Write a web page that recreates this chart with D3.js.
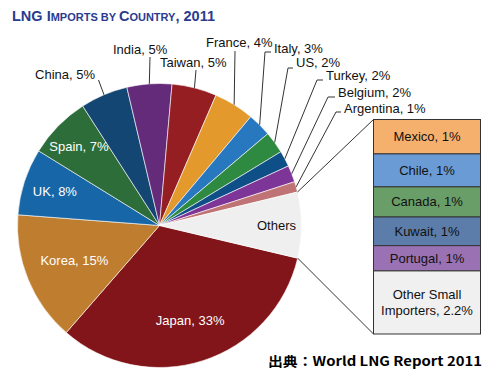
<!DOCTYPE html>
<html>
<head>
<meta charset="utf-8">
<script src="https://cdn.jsdelivr.net/npm/d3@7"></script>
<style>
body { margin: 0; background: #fff; }
svg { display: block; }
text { font-family: "Liberation Sans", Arial, sans-serif; }
</style>
</head>
<body>
<div id="chart"></div>
<script>
// slices of the pie, clockwise from the Others/Japan edge
var countries = ["Japan", "Korea", "UK", "Spain", "China", "India", "Taiwan", "France", "Italy", "US", "Turkey", "Belgium", "Argentina", "Others"]
var shares = [32.7, 14.8, 7.6, 7.1, 5.4, 5.1, 5.1, 4.6, 2.7, 2.5, 1.8, 1.9, 1.2]
var labels = ["Japan, 33%", "Korea, 15%", "UK, 8%", "Spain, 7%", "China, 5%", "India, 5%", "Taiwan, 5%", "France, 4%", "Italy, 3%", "US, 2%", "Turkey, 2%", "Belgium, 2%", "Argentina, 1%", "Others"]
var colors = ["#811519", "#bf7d2f", "#1766a8", "#2c6d39", "#144674", "#642b7a", "#951e23", "#e3992b", "#2778bf", "#2f8a41", "#0f4f87", "#7e3598", "#c07374", "#efefef"]

// breakdown of "Others"
var smallNames = ["Mexico, 1%", "Chile, 1%", "Canada, 1%", "Kuwait, 1%", "Portugal, 1%", "Other Small|Importers, 2.2%"]
var smallShares = [1.2, 1.15, 1.05, 1.0, 0.88, 2.2]
var smallColors = ["#f6b06e", "#6b9bd4", "#6a9e69", "#5c7ca9", "#9a72b3", "#f0f0f0"]

var othersTotal = d3.sum(smallShares)
var data = countries.map(function(c, i) {
	return {name: c, value: i < shares.length ? shares[i] : othersTotal, label: labels[i], color: colors[i]}
})

var width = 500, height = 384
var cx = 159.5, cy = 225.5, radius = 142
var start = 103.3 * Math.PI / 180

var svg = d3.select("#chart").append("svg")
	.attr("width", width)
	.attr("height", height)

// title in small caps
var title = svg.append("text")
	.attr("x", 12)
	.attr("y", 21)
	.style("font-weight", "bold")
	.style("fill", "#2a3b8f")
var parts = [["LNG I", 14.5], ["MPORTS BY ", 11], ["C", 14.5], ["OUNTRY", 11], [", 2011", 14.5]]
parts.forEach(function(p) {
	title.append("tspan").style("font-size", p[1] + "px").text(p[0])
})

var g = svg.append("g").attr("transform", "translate(" + cx + "," + cy + ")")

var pie = d3.pie().sort(null).value(function(d) { return d.value })
	.startAngle(start).endAngle(start + 2 * Math.PI)
var arcs = pie(data)

var arc = d3.arc().innerRadius(0).outerRadius(radius)
var edge = d3.arc().innerRadius(radius).outerRadius(radius)

g.selectAll("path.slice")
	.data(arcs)
	.enter()
	.append("path")
		.attr("class", "slice")
		.attr("d", arc)
		.style("fill", function(d) { return d.data.color })
		.style("stroke", "#ffffff")
		.style("stroke-width", 0.6)

// labels inside the slices (radius from centre)
var inside = {Japan: 100, Korea: 92, UK: 110, Spain: 113, Others: 117}
arcs.forEach(function(d) {
	var r = inside[d.data.name]
	if (!r) return
	var p = d3.arc().innerRadius(r).outerRadius(r).centroid(d)
	g.append("text")
		.attr("x", p[0])
		.attr("y", p[1] + 4.5)
		.attr("text-anchor", "middle")
		.style("font-size", "13px")
		.style("fill", d.data.name == "Others" ? "#111" : "#fff")
		.text(d.data.label)
})

// labels outside: leader bend point and text spot (page coords)
var outside = {
	China:     {pts: [[98.5, 80]], tx: 95, ty: 79, anchor: "end"},
	India:     {pts: [[150, 57]], tx: 113, ty: 54, anchor: "start"},
	Taiwan:    {pts: [[196, 70]], tx: 160, ty: 67, anchor: "start"},
	France:    {pts: [[235, 51]], tx: 206, ty: 47, anchor: "start"},
	Italy:     {pts: [[265, 52], [271, 52]], tx: 274, ty: 53, anchor: "start"},
	US:        {pts: [[288, 68], [293, 68]], tx: 296, ty: 67, anchor: "start"},
	Turkey:    {pts: [[317, 80], [323, 80]], tx: 326, ty: 80, anchor: "start"},
	Belgium:   {pts: [[328, 97], [335, 97]], tx: 338, ty: 97, anchor: "start"},
	Argentina: {pts: [[336, 112], [341, 112]], tx: 344, ty: 113, anchor: "start"}
}
var line = d3.line()
arcs.forEach(function(d) {
	var o = outside[d.data.name]
	if (!o) return
	var e = edge.centroid(d)
	var pts = [[e[0] + cx, e[1] + cy]].concat(o.pts)
	svg.append("path")
		.attr("d", line(pts))
		.style("fill", "none")
		.style("stroke", "#333")
		.style("stroke-width", 1)
	svg.append("text")
		.attr("x", o.tx)
		.attr("y", o.ty)
		.attr("text-anchor", o.anchor)
		.style("font-size", "13px")
		.style("fill", "#111")
		.text(d.data.label)
})

// stacked box for the Others breakdown
var boxX = 373.5, boxW = 107
var y = d3.scaleLinear().domain([0, othersTotal]).range([119.5, 334])
var acc = 0
var stack = smallShares.map(function(v, i) {
	var s = {name: smallNames[i], color: smallColors[i], y0: acc, y1: acc + v}
	acc += v
	return s
})

var others = arcs[arcs.length - 1]
var pStart = d3.pointRadial(others.startAngle, radius)
var pEnd = d3.pointRadial(others.endAngle, radius)
svg.append("line")
	.attr("x1", pStart[0] + cx).attr("y1", pStart[1] + cy)
	.attr("x2", boxX).attr("y2", y(0))
	.style("stroke", "#333").style("stroke-width", 1)
svg.append("line")
	.attr("x1", pEnd[0] + cx).attr("y1", pEnd[1] + cy)
	.attr("x2", boxX).attr("y2", y(othersTotal))
	.style("stroke", "#333").style("stroke-width", 1)

svg.selectAll("rect.part")
	.data(stack)
	.enter()
	.append("rect")
		.attr("class", "part")
		.attr("x", boxX)
		.attr("y", function(d) { return y(d.y0) })
		.attr("width", boxW)
		.attr("height", function(d) { return y(d.y1) - y(d.y0) })
		.style("fill", function(d) { return d.color })
		.style("stroke", "#333")
		.style("stroke-width", 1)

stack.forEach(function(d) {
	var lines = d.name.split("|")
	var mid = (y(d.y0) + y(d.y1)) / 2
	lines.forEach(function(t, k) {
		svg.append("text")
			.attr("x", boxX + boxW / 2)
			.attr("y", mid + 4.5 + (k - (lines.length - 1) / 2) * 16)
			.attr("text-anchor", "middle")
			.style("font-size", "13px")
			.style("fill", "#111")
			.text(t)
	})
})

// source note
svg.append("text")
	.attr("x", 268)
	.attr("y", 366)
	.attr("textLength", 214)
	.attr("lengthAdjust", "spacingAndGlyphs")
	.style("font-family", "'Noto Sans CJK JP', sans-serif")
	.style("font-weight", "bold")
	.style("font-size", "13px")
	.style("fill", "#000")
	.text("出典：World LNG Report 2011")
</script>
</body>
</html>
